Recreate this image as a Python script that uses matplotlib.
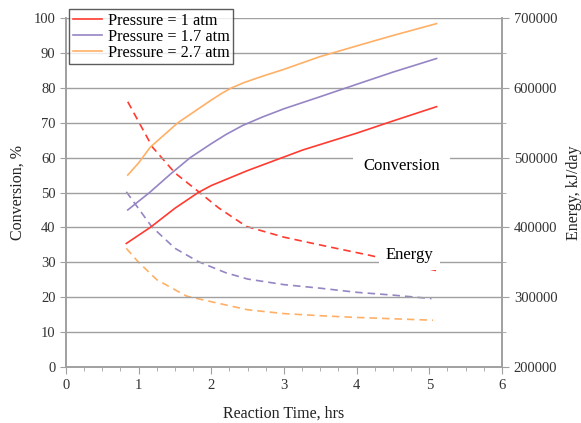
import numpy as np
import matplotlib.pyplot as plt
from matplotlib.ticker import MultipleLocator

plt.rcParams['font.family'] = ['Liberation Serif', 'DejaVu Serif']

# conversion curves (left axis, %)
t_c1 = [0.83, 1.16, 1.5, 1.82, 2.0, 2.5, 3.26, 4.0, 4.5, 5.1]
conv_1 = [35.4, 40, 45.5, 50, 52, 56.3, 62.2, 67, 70.5, 74.6]
t_c17 = [0.85, 1.15, 1.45, 1.71, 2.0, 2.2, 2.43, 2.7, 3.0, 3.49, 4.0, 4.5, 5.1]
conv_17 = [45, 50, 55.5, 60, 64, 66.6, 69.2, 71.6, 74, 77.4, 81, 84.5, 88.4]
t_c27 = [0.85, 1.0, 1.16, 1.54, 2.0, 2.15, 2.28, 2.45, 2.7, 3.0, 3.49, 4.0, 4.5, 5.1]
conv_27 = [55, 58.5, 63, 70, 76.5, 78.5, 80, 81.5, 83.3, 85.3, 88.9, 92, 95, 98.4]

# energy curves (right axis, kJ/day)
t_e1 = [0.85, 1.19, 1.5, 1.82, 2.1, 2.48, 3.0, 3.49, 4.18, 5.1]
energy_1 = [580000, 515000, 478000, 451500, 428000, 401500, 386000, 375000, 360000, 338000]
t_e17 = [0.83, 1.18, 1.5, 1.82, 2.2, 2.5, 3.0, 3.49, 4.0, 4.5, 5.03]
energy_17 = [451000, 401000, 370000, 351000, 335000, 326000, 318000, 313000,
             307000, 303000, 298000]
t_e27 = [0.83, 0.99, 1.25, 1.66, 2.0, 2.5, 3.0, 3.49, 4.0, 5.05]
energy_27 = [370000, 351000, 325000, 301500, 293500, 282000, 276500, 273500, 271000, 267000]

red = '#ff3b30'
purple = '#9685c4'
orange = '#ffb066'
grey = '#a0a0a0'

fig = plt.figure(figsize=(5.81, 4.23), dpi=100)
ax = fig.add_axes([0.1136, 0.1324, 0.7504, 0.825])
ax2 = ax.twinx()

ax.plot(t_c1, conv_1, color=red, lw=1.2, label='Pressure = 1 atm', zorder=3)
ax.plot(t_c17, conv_17, color=purple, lw=1.2, label='Pressure = 1.7 atm', zorder=3)
ax.plot(t_c27, conv_27, color=orange, lw=1.2, label='Pressure = 2.7 atm', zorder=3)

ax2.plot(t_e1, energy_1, color=red, lw=1.2, dashes=(4.5, 3))
ax2.plot(t_e17, energy_17, color=purple, lw=1.2, dashes=(4.5, 3))
ax2.plot(t_e27, energy_27, color=orange, lw=1.2, dashes=(4.5, 3))

ax.set_xlim(0, 6)
ax.set_ylim(0, 100)
ax2.set_ylim(200000, 700000)
ax.yaxis.set_major_locator(MultipleLocator(10))
ax.xaxis.set_major_locator(MultipleLocator(1))
ax.xaxis.set_minor_locator(MultipleLocator(0.25))
ax2.yaxis.set_major_locator(MultipleLocator(100000))
ax2.yaxis.set_minor_locator(MultipleLocator(50000))

ax.grid(axis='y', color=grey, lw=1.0)
ax.set_axisbelow(True)
for a in (ax, ax2):
    a.spines['top'].set_visible(False)
    for s in ('left', 'right', 'bottom'):
        a.spines[s].set_color(grey)
        a.spines[s].set_linewidth(1.2)
    a.tick_params(which='both', color=grey, labelsize=10.5, labelcolor='#333333')
    a.tick_params(which='major', length=5)
    a.tick_params(which='minor', length=3)
ax.tick_params(axis='y', length=4)

ax.set_xlabel('Reaction Time, hrs', fontsize=11.5, color='#222222', labelpad=10)
ax.set_ylabel('Conversion, %', fontsize=11.5, color='#222222', labelpad=6)
ax2.set_ylabel('Energy, kJ/day', fontsize=11.5, color='#222222', labelpad=6)

# in-plot labels, white boxes hide the grid / lines behind them
ax.text(4.62, 57.6, 'Conversion', fontsize=12, ha='center', va='center',
        bbox=dict(facecolor='white', edgecolor='none', boxstyle='square,pad=0.6'),
        zorder=5)
ax.text(4.73, 32.1, 'Energy', fontsize=12, ha='center', va='center',
        bbox=dict(facecolor='white', edgecolor='none', boxstyle='square,pad=0.4'),
        zorder=5)

leg = ax.legend(loc='upper left', bbox_to_anchor=(0.008, 1.025), fontsize=11.7,
                frameon=True, fancybox=False, handlelength=1.8, borderpad=0.2,
                labelspacing=0.0, handletextpad=0.35, borderaxespad=0)
leg.get_frame().set_edgecolor('#333333')
leg.get_frame().set_linewidth(1.0)
leg.set_zorder(10)
ax.set_zorder(ax2.get_zorder() + 1)
ax.patch.set_visible(False)

fig.savefig('out.png', dpi=100)
